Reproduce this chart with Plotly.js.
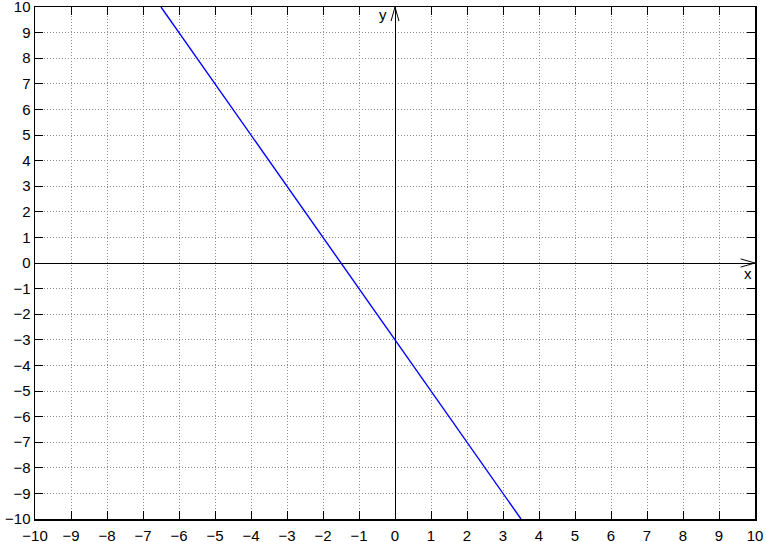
<!DOCTYPE html>
<html>
<head>
<meta charset="utf-8">
<script src="https://cdn.plot.ly/plotly-3.0.1.min.js"></script>
<style>html,body{margin:0;padding:0;background:#fff;}#chart{width:766px;height:542px;}</style>
</head>
<body>
<div id="chart"></div>
<script>
// Line y = -2x - 3, clipped to the [-10,10] window
const lineX = [-6.5, 3.5];
const lineY = [10, -10];
const tickVals = [-10,-9,-8,-7,-6,-5,-4,-3,-2,-1,0,1,2,3,4,5,6,7,8,9,10];
const axisLabels = ['x', 'y'];

const font = {family: 'Liberation Sans, Arial, sans-serif', size: 15, color: '#000'};

const axisCommon = {
  range: [-10, 10],
  tickmode: 'array',
  tickvals: tickVals,
  ticks: 'inside',
  ticklen: 8,
  tickwidth: 1,
  tickcolor: '#000',
  showline: true,
  linecolor: '#000',
  linewidth: 1.5,
  mirror: 'ticks',
  showgrid: true,
  gridcolor: '#8c8c8c',
  griddash: '1px,2px',
  gridwidth: 1,
  zeroline: true,
  zerolinecolor: '#000',
  zerolinewidth: 1,
  tickfont: font,
  ticklabeloverflow: 'allow',
  fixedrange: true
};

const data = [{
  x: lineX, y: lineY, type: 'scatter', mode: 'lines',
  line: {color: '#0000ff', width: 1.4}, hoverinfo: 'skip'
}];

const layout = {
  width: 766, height: 542,
  margin: {l: 35, r: 11, t: 7, b: 23},
  paper_bgcolor: '#fff', plot_bgcolor: '#fff',
  showlegend: false,
  font: font,
  xaxis: Object.assign({}, axisCommon, {ticklabelstandoff: 2}),
  yaxis: Object.assign({}, axisCommon),
  shapes: [
    {type: 'path', xref: 'x', yref: 'y', path: 'M 9.6,0.16 L 10,0 L 9.6,-0.16', line: {color: '#000', width: 1}},
    {type: 'path', xref: 'x', yref: 'y', path: 'M -0.11,9.45 L 0,10 L 0.11,9.45', line: {color: '#000', width: 1}}
  ],
  annotations: [
    {x: 9.81, y: -0.42, xref: 'x', yref: 'y', text: axisLabels[0], showarrow: false, font: font},
    {x: -0.34, y: 9.69, xref: 'x', yref: 'y', text: axisLabels[1], showarrow: false, font: font}
  ]
};

Plotly.newPlot('chart', data, layout, {staticPlot: true, displayModeBar: false});
</script>
</body>
</html>
